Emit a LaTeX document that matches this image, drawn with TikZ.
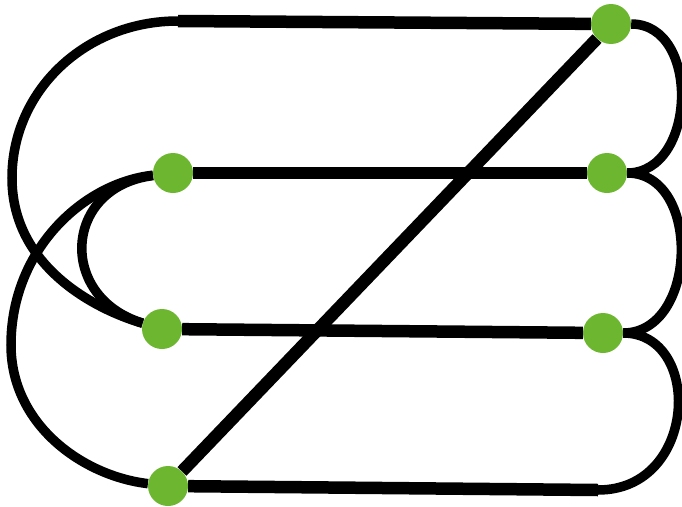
\documentclass[tikz,border=0pt]{standalone}
\usepackage{xcolor}
\usepackage{tikz}
\usetikzlibrary{backgrounds}
\definecolor{dotgreen}{HTML}{6CB630}

\begin{document}
\begin{tikzpicture}[x=1pt,y=-1pt]
  \tikzset{dot/.style={circle,fill=dotgreen,minimum size=40pt,inner sep=0pt},
    bar line/.style={line width=12.5pt},
    arc line/.style={line width=9.5pt}}%

  \useasboundingbox (0,0) rectangle (682,506);

  \node[dot] (A) at (611,24) {};
  \node[dot] (B) at (607,173) {};
  \node[dot] (C) at (173,173) {};
  \node[dot] (D) at (162,329) {};
  \node[dot] (E) at (603,333) {};
  \node[dot] (F) at (168,486) {};

  \coordinate (topend) at (178,21);
  \coordinate (bottomend) at (598,490);
  \coordinate (leftA) at (12,178);
  \coordinate (leftB) at (11,345);

  \begin{scope}[on background layer]
    % straight bars
    \draw[bar line] (A) -- (topend);
    \draw[bar line] (C) -- (B);
    \draw[bar line] (D) -- (E);
    \draw[bar line] (F) -- (bottomend);
    \draw[bar line] (A) -- (F);
    % left loops
    \draw[arc line] (topend) .. controls +(-92,0) and +(0,-88) .. (leftA)
      .. controls +(0,88) and +(-68,-20) .. (D);
    \draw[arc line] (C) .. controls +(-90,10) and +(0,-95) .. (leftB)
      .. controls +(0,80) and +(-85,-10) .. (F);
    \draw[arc line] (C) .. controls +(-110,14) and +(-105,-32) .. (D);
    % right loops
    \draw[arc line] (A) .. controls +(90,0) and +(90,0) .. (B);
    \draw[arc line] (B) .. controls +(95,0) and +(95,0) .. (E);
    \draw[arc line] (E) .. controls +(100,0) and +(100,0) .. (bottomend);
  \end{scope}
\end{tikzpicture}
\end{document}
